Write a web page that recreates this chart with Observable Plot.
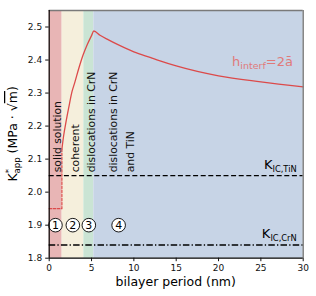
<!DOCTYPE html>
<html>
<head>
<meta charset="utf-8">
<script src="https://cdn.jsdelivr.net/npm/d3@7"></script>
<script src="https://cdn.jsdelivr.net/npm/@observablehq/plot@0.6"></script>
<style>
  html, body { margin: 0; padding: 0; background: white; }
  svg { display: block; }
</style>
</head>
<body>
<div id="chart"></div>
<script>
// ---- data ----
const regionBounds = [0, 1.53, 4.09, 5.27, 30];
const regionColors = ["#e8b5b5", "#f5efdc", "#cae4d4", "#c7d4e6"];
const regionNames = ["solid solution", "coherent", "dislocations in CrN", "dislocations in CrN\nand TiN"];
const regionLabelX = [0.83, 2.9, 4.76, 8.4];
const circleLabels = ["1", "2", "3", "4"];
const circleX = [0.74, 2.79, 4.68, 8.2];
const circleY = 1.9;

const periodNm = [1.5, 1.7, 2.0, 2.3, 2.7, 3.0, 3.5, 4.0, 4.5, 5.0, 5.27, 6, 7, 8, 9, 10, 12, 13, 15, 20, 25, 30];
const kApp =     [2.13, 2.17, 2.215, 2.255, 2.305, 2.33, 2.375, 2.415, 2.447, 2.474, 2.488, 2.475, 2.461, 2.448, 2.436, 2.425, 2.407, 2.398, 2.382, 2.352, 2.334, 2.319];

const ssX = [0, 1.5, 1.5];
const ssY = [1.95, 1.95, 2.13];

const kicTiN = 2.05;
const kicCrN = 1.84;

const xTicks = [0, 5, 10, 15, 20, 25, 30];
const yTicks = [1.8, 1.9, 2.0, 2.1, 2.2, 2.3, 2.4, 2.5];

// ---- tables ----
const regions = regionColors.map((c, i) => ({x1: regionBounds[i], x2: regionBounds[i + 1], fill: c}));
const regionLabels = regionNames.map((t, i) => ({x: regionLabelX[i], text: t}));
const circles = circleLabels.map((t, i) => ({x: circleX[i], y: circleY, text: t}));
const curve = periodNm.map((p, i) => ({x: p, y: kApp[i]}));
const ssLine = ssX.map((x, i) => ({x, y: ssY[i]}));

const red = "#dc4a4a";

const chart = Plot.plot({
  width: 316,
  height: 296,
  marginLeft: 48.7,
  marginRight: 13.3,
  marginTop: 10,
  marginBottom: 38.3,
  style: {fontFamily: "DejaVu Sans", fontSize: "9px", background: "white", color: "#111"},
  x: {domain: [0, 30]},
  y: {domain: [1.8, 2.55]},
  marks: [
    Plot.rect(regions, {x1: "x1", x2: "x2", fill: "fill"}),
    Plot.ruleY([kicTiN], {stroke: "black", strokeWidth: 1.4, strokeDasharray: "5,2.6"}),
    Plot.ruleY([kicCrN], {stroke: "black", strokeWidth: 1.4, strokeDasharray: "6.5,2.2,1.3,2.2"}),
    Plot.line(ssLine, {x: "x", y: "y", stroke: red, strokeWidth: 1.2, strokeDasharray: "2.5,1.6"}),
    Plot.line(curve, {x: "x", y: "y", stroke: red, strokeWidth: 1.3, curve: "monotone-x"}),
    Plot.text(regionLabels, {x: "x", y: 2.06, text: "text", rotate: -90, textAnchor: "start",
      lineAnchor: "middle", fontSize: 10.8, lineHeight: 1.5, fill: "#111"}),
    Plot.dot(circles, {x: "x", y: "y", r: 6.8, fill: "white", stroke: "black", strokeWidth: 0.9}),
    Plot.text(circles, {x: "x", y: "y", text: "text", fontSize: 11, fill: "black"}),
    Plot.ruleX([30], {stroke: "#7a7a7a", strokeWidth: 1.4}),
    Plot.ruleY([2.55], {stroke: "#7a7a7a", strokeWidth: 1.4}),
    Plot.ruleX([0], {stroke: "black", strokeWidth: 1.2}),
    Plot.ruleY([1.8], {stroke: "black", strokeWidth: 1.2}),
    Plot.axisX({ticks: xTicks, tickSize: 3.5, tickPadding: 3, label: null, tickFormat: d3.format("d")}),
    Plot.axisY({ticks: yTicks, tickSize: 3.5, tickPadding: 3.5, label: null, tickFormat: d3.format(".1f")})
  ]
});

document.getElementById("chart").appendChild(chart);

const sx = chart.scale("x"), sy = chart.scale("y");
const svg = d3.select(chart);
const ff = "DejaVu Sans";

// K_IC labels
function kLabel(sub, yv) {
  const t = svg.append("text")
    .attr("x", sx.apply(30) - 6)
    .attr("y", sy.apply(yv) - 6)
    .attr("text-anchor", "end")
    .attr("font-family", ff)
    .attr("fill", "black");
  t.append("tspan").attr("font-size", 13).text("K");
  t.append("tspan").attr("font-size", 8.3).attr("dy", 3).text(sub);
}
kLabel("IC,TiN", kicTiN);
kLabel("IC,CrN", kicCrN);

// h_interf annotation
{
  const t = svg.append("text")
    .attr("x", sx.apply(21.65))
    .attr("y", sy.apply(2.379))
    .attr("text-anchor", "start")
    .attr("font-family", ff)
    .attr("fill", "#e07a7a");
  t.append("tspan").attr("font-size", 13).text("h");
  t.append("tspan").attr("font-size", 9.5).attr("dy", 3).text("interf");
  t.append("tspan").attr("font-size", 13).attr("dy", -3).text("=2ā");
}

// x axis label
svg.append("text")
  .attr("x", (sx.apply(0) + sx.apply(30)) / 2)
  .attr("y", 286)
  .attr("text-anchor", "middle")
  .attr("font-family", ff)
  .attr("font-size", 12.5)
  .attr("fill", "black")
  .text("bilayer period (nm)");

// y axis label
{
  const cy = (sy.apply(1.8) + sy.apply(2.55)) / 2;
  const t = svg.append("text")
    .attr("transform", `translate(17,${cy}) rotate(-90)`)
    .attr("text-anchor", "middle")
    .attr("font-family", ff)
    .attr("font-size", 12.5)
    .attr("fill", "black");
  t.append("tspan").text("K");
  t.append("tspan").attr("font-size", 8.5).attr("dy", -5).text("*");
  t.append("tspan").attr("font-size", 8.5).attr("dx", -4.3).attr("dy", 8).text("app");
  t.append("tspan").attr("dy", -3).text(" (MPa · √");
  t.append("tspan").style("text-decoration", "overline").text("m");
  t.append("tspan").text(")");
}
</script>
</body>
</html>
